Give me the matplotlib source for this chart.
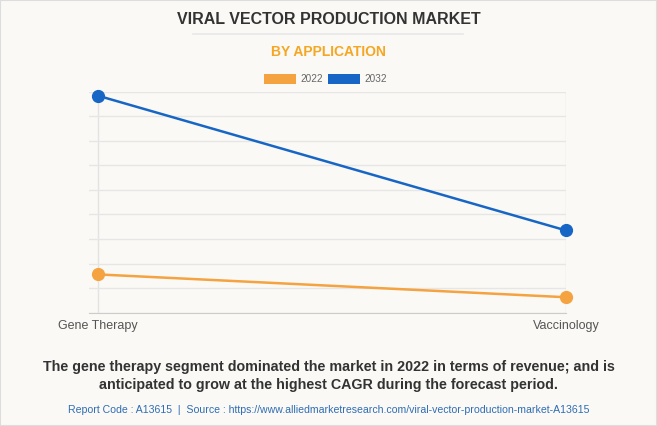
import matplotlib.pyplot as plt
from matplotlib.patches import Rectangle
from matplotlib import font_manager

# data
categories = ['Gene Therapy', 'Vaccinology']
years = ['2022', '2032']
values_2022 = [15.6, 6.3]
values_2032 = [88.4, 33.5]
colors = {'2022': '#F4A340', '2032': '#1766C5'}

names = {f.name for f in font_manager.fontManager.ttflist}
narrow = 'Liberation Sans Narrow' if 'Liberation Sans Narrow' in names else 'Liberation Sans'
plt.rcParams['font.family'] = ['Liberation Sans', 'DejaVu Sans']

bg = '#FAF9F5'
fig = plt.figure(figsize=(6.57, 4.26), dpi=100, facecolor=bg)

# border of the picture
fig.patches.append(Rectangle((0, 0), 1, 1, transform=fig.transFigure, fill=False,
                             edgecolor='#DDDDDD', linewidth=1.5))

# titles
fig.text(0.5, 1 - 19.5 / 426, 'VIRAL VECTOR PRODUCTION MARKET', ha='center', va='center',
         fontsize=11.5, fontweight='bold', color='#333333')
fig.add_artist(plt.Line2D([193 / 657, 463 / 657], [1 - 33.5 / 426] * 2, color='#E8E8E8',
                          linewidth=1.2, transform=fig.transFigure))
fig.text(0.5, 1 - 52 / 426, 'BY APPLICATION', ha='center', va='center',
         fontsize=10, fontweight='bold', color='#F5A623', family=narrow)

# legend
leg_x = [264, 328]
for yr, x0 in zip(years, leg_x):
    fig.patches.append(Rectangle((x0 / 657, 1 - 84 / 426), 32 / 657, 10 / 426,
                                 transform=fig.transFigure, facecolor=colors[yr],
                                 edgecolor='none'))
    fig.text((x0 + 36) / 657, 1 - 78.5 / 426, yr, ha='left', va='center',
             fontsize=7.2, color='#666666', family=narrow)

ax = fig.add_axes([89.3 / 657, 1 - 312.7 / 426, 476.7 / 657, 221 / 426])
ax.set_facecolor(bg)
x = list(range(len(categories)))
ax.set_xlim(-0.018, 1)
ax.set_ylim(0, 90)
ax.set_yticks(range(0, 91, 10))
ax.yaxis.grid(True, color='#E6E6E6', linewidth=1)
for xi in x:
    ax.axvline(xi, color='#E3E3E3', linewidth=1, zorder=0)
ax.set_axisbelow(True)
for s in ['top', 'right', 'left']:
    ax.spines[s].set_visible(False)
ax.spines['bottom'].set_color('#CCCCCC')
ax.tick_params(left=False, labelleft=False, bottom=False)
ax.set_xticks(x)
ax.set_xticklabels(categories, fontsize=9, color='#555555')
ax.tick_params(axis='x', pad=2)

for yr, vals in zip(years, [values_2022, values_2032]):
    ax.plot(x, vals, color=colors[yr], linewidth=1.8, marker='o', markersize=8.5,
            clip_on=False, zorder=3)

# footer
fig.text(0.5, 1 - 367.5 / 426,
         'The gene therapy segment dominated the market in 2022 in terms of revenue; and is',
         ha='center', va='center', fontsize=10.3, fontweight='bold', color='#333333')
fig.text(0.5, 1 - 385 / 426,
         'anticipated to grow at the highest CAGR during the forecast period.',
         ha='center', va='center', fontsize=10.3, fontweight='bold', color='#333333')
fig.text(0.5, 1 - 410 / 426,
         'Report Code : A13615  |  Source : https://www.alliedmarketresearch.com/viral-vector-production-market-A13615',
         ha='center', va='center', fontsize=7.6, color='#2F6DB5', family=narrow)

fig.savefig('out.png', dpi=100, facecolor=bg)
